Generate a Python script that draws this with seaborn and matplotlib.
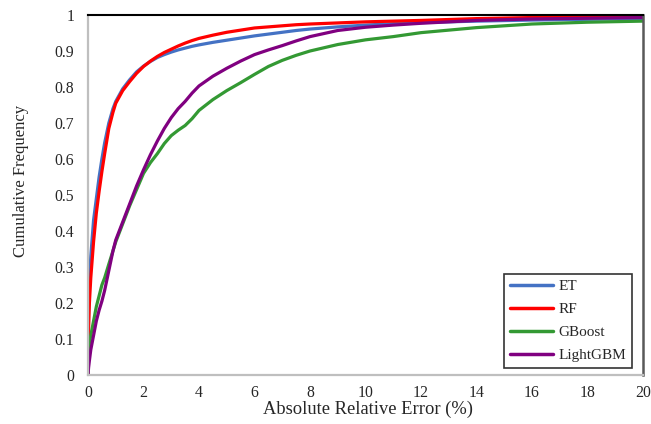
import numpy as np
import pandas as pd
import matplotlib
matplotlib.use("Agg")
import matplotlib.pyplot as plt
import seaborn as sns

# Absolute relative error (%) grid and cumulative frequency of each model
error_pct = [0, 0.02, 0.05, 0.1, 0.2, 0.3, 0.4, 0.5, 0.6, 0.75, 0.9, 1, 1.25, 1.5,
             1.75, 2, 2.25, 2.5, 2.75, 3, 3.25, 3.5, 3.75, 4, 4.5, 5, 5.5, 6, 6.5,
             7, 7.5, 8, 9, 10, 11, 12, 14, 16, 18, 20]

et_cum = [0, 0.18, 0.26, 0.33, 0.43, 0.49, 0.55, 0.60, 0.645, 0.70, 0.74, 0.76,
          0.795, 0.82, 0.842, 0.858, 0.871, 0.882, 0.89, 0.897, 0.903, 0.908,
          0.913, 0.917, 0.924, 0.930, 0.936, 0.942, 0.947, 0.952, 0.957, 0.961,
          0.967, 0.972, 0.976, 0.979, 0.983, 0.986, 0.988, 0.990]
rf_cum = [0, 0.13, 0.20, 0.27, 0.37, 0.45, 0.51, 0.565, 0.615, 0.685, 0.73, 0.755,
          0.79, 0.815, 0.838, 0.857, 0.872, 0.885, 0.896, 0.905, 0.914, 0.922,
          0.929, 0.935, 0.944, 0.952, 0.958, 0.964, 0.967, 0.970, 0.973, 0.975,
          0.978, 0.981, 0.983, 0.985, 0.990, 0.993, 0.995, 0.997]
gboost_cum = [0, 0.06, 0.09, 0.11, 0.15, 0.19, 0.22, 0.25, 0.27, 0.308, 0.345, 0.37,
              0.42, 0.47, 0.515, 0.56, 0.59, 0.615, 0.643, 0.665, 0.68, 0.693,
              0.712, 0.735, 0.765, 0.790, 0.812, 0.835, 0.857, 0.874, 0.888, 0.90,
              0.918, 0.931, 0.940, 0.951, 0.965, 0.975, 0.980, 0.983]
lgbm_cum = [0, 0.02, 0.04, 0.07, 0.11, 0.15, 0.18, 0.205, 0.235, 0.29, 0.345, 0.375,
            0.425, 0.475, 0.525, 0.57, 0.612, 0.65, 0.685, 0.715, 0.74, 0.76,
            0.783, 0.803, 0.83, 0.852, 0.872, 0.89, 0.903, 0.915, 0.928, 0.940,
            0.957, 0.966, 0.972, 0.977, 0.985, 0.989, 0.991, 0.993]

models = ["ET", "RF", "GBoost", "LightGBM"]
colors = ["#4472C4", "#FF0000", "#339933", "#800080"]
x_ticks = list(range(0, 21, 2))
y_ticks = [0, 0.1, 0.2, 0.3, 0.4, 0.5, 0.6, 0.7, 0.8, 0.9, 1.0]
y_tick_labels = ["0", "0.1", "0.2", "0.3", "0.4", "0.5", "0.6", "0.7", "0.8", "0.9", "1"]

frames = []
for name, vals in zip(models, [et_cum, rf_cum, gboost_cum, lgbm_cum]):
    frames.append(pd.DataFrame({"err": error_pct, "cum": vals, "model": name}))
df = pd.concat(frames, ignore_index=True)

sns.set_style("white")
plt.rcParams["font.family"] = ["Liberation Serif", "DejaVu Serif"]

fig = plt.figure(figsize=(6.51, 4.24), dpi=100)
ax = fig.add_axes([0.1352, 0.1156, 0.8525, 0.849])

sns.lineplot(data=df, x="err", y="cum", hue="model", hue_order=models,
             palette=colors, linewidth=2.3, ax=ax, sort=False)

ax.set_xlim(0, 20)
ax.set_ylim(0, 1)
ax.set_xticks(x_ticks)
ax.set_xticklabels([str(t) for t in x_ticks])
ax.set_yticks(y_ticks)
ax.set_yticklabels(y_tick_labels)
ax.tick_params(axis="both", length=0, labelsize=11.3)
ax.tick_params(axis="y", pad=10)
ax.tick_params(axis="x", pad=7)

ax.set_xlabel("Absolute Relative Error (%)", fontsize=13.3, va="center")
ax.xaxis.set_label_coords(0.505, -0.095)
ax.set_ylabel("Cumulative Frequency", fontsize=12, va="center")
ax.yaxis.set_label_coords(-0.12, 0.54)

for side in ["left", "bottom"]:
    ax.spines[side].set_color("#bfbfbf")
    ax.spines[side].set_linewidth(1.6)
ax.spines["top"].set_color("black")
ax.spines["top"].set_linewidth(1.5)
ax.spines["right"].set_color("#595959")
ax.spines["right"].set_linewidth(1.8)

leg = ax.legend(loc="lower right", bbox_to_anchor=(0.980, 0.019), fontsize=11,
                frameon=True, fancybox=False, edgecolor="black",
                handlelength=2.8, handletextpad=0.35, labelspacing=0.6,
                borderpad=0.4, borderaxespad=0)
leg.get_frame().set_linewidth(1.2)
for line in leg.get_lines():
    line.set_linewidth(2.5)

fig.savefig("out.png", dpi=100)
